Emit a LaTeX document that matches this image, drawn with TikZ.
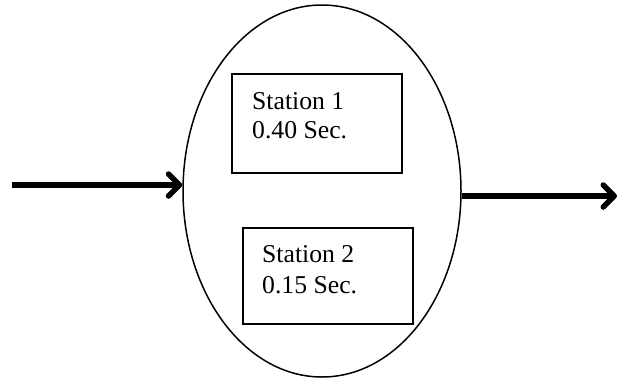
\documentclass[tikz,border=0pt]{standalone}
\usepackage{fontspec}
\setmainfont{Liberation Serif}
\usetikzlibrary{arrows.meta,shapes.geometric}
\tikzset{
  stationbox/.style={draw, line width=1.5pt, inner sep=0pt, anchor=north west},
  lbl/.style={anchor=base west, inner sep=0pt, font=\fontsize{25.7}{29.5}\selectfont},
  flow/.style={line width=6.2pt, -{Straight Barb[length=11pt, width=22pt, line width=5.5pt, round]}}
}
\begin{document}
\begin{tikzpicture}[x=1pt, y=-1pt]
\useasboundingbox (0,0) rectangle (621,381);
\node[draw, ellipse, line width=1.5pt, minimum width=278pt, minimum height=372pt, inner sep=0pt] (ell) at (322,191) {};
\node[stationbox, minimum width=170pt, minimum height=99pt] (s1) at (231,73) {};
\node[stationbox, minimum width=170pt, minimum height=96pt] (s2) at (242,227) {};
\node[lbl] (s1a) at (252,109) {Station 1};
\node[lbl] (s1b) at (252,138) {0.40 Sec.};
\node[lbl] (s2a) at (262,262) {Station 2};
\node[lbl] (s2b) at (262,293) {0.15 Sec.};
\coordinate (inL) at (12,185);
\coordinate (outR) at (617,196);
\draw[flow] (inL) -- (inL -| ell.west);
\draw[flow] (ell.east |- outR) -- (outR);
\end{tikzpicture}
\end{document}
